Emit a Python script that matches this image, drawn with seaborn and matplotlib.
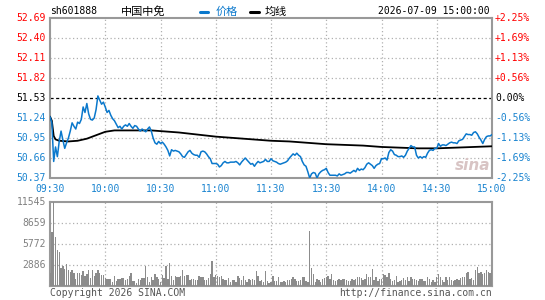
import matplotlib
matplotlib.use("Agg")
import matplotlib.pyplot as plt
import seaborn as sns
import numpy as np
import pandas as pd

# ---------------- data ----------------
price = [
    51.26, 51.17, 50.61, 50.82, 50.68, 50.90, 51.05, 50.92, 50.80, 50.88,
    50.95, 51.05, 51.17, 51.12, 51.08, 51.18, 51.16, 51.22, 51.40, 51.32,
    51.45, 51.30, 51.22, 51.21, 51.24, 51.36, 51.56, 51.50, 51.44, 51.47,
    51.40, 51.32, 51.35, 51.28, 51.23, 51.20, 51.15, 51.10, 51.12, 51.08,
    51.12, 51.14, 51.12, 51.16, 51.12, 51.09, 51.13, 51.12, 51.08, 51.05,
    51.08, 51.06, 51.04, 51.08, 51.11, 51.05, 50.95, 50.88, 50.86, 50.90,
    50.87, 50.89, 50.86, 50.82, 50.77, 50.69, 50.78, 50.76, 50.77, 50.76,
    50.75, 50.72, 50.68, 50.67, 50.71, 50.75, 50.77, 50.73, 50.71, 50.70,
    50.70, 50.67, 50.75, 50.76, 50.75, 50.72, 50.68, 50.65, 50.58, 50.58,
    50.58, 50.57, 50.53, 50.55, 50.59, 50.61, 50.59, 50.59, 50.60, 50.60,
    50.60, 50.61, 50.59, 50.56, 50.60, 50.63, 50.66, 50.63, 50.60, 50.57,
    50.58, 50.54, 50.58, 50.61, 50.59, 50.60, 50.61, 50.64, 50.61, 50.61,
    50.65, 50.62, 50.61, 50.60, 50.58, 50.57, 50.58, 50.59, 50.60, 50.62,
    50.66, 50.69, 50.72, 50.70, 50.73, 50.70, 50.68, 50.61, 50.56, 50.54,
    50.46, 50.37, 50.43, 50.45, 50.44, 50.37, 50.43, 50.46, 50.48, 50.49,
    50.51, 50.45, 50.41, 50.41, 50.41, 50.41, 50.40, 50.43, 50.41, 50.42,
    50.43, 50.45, 50.45, 50.44, 50.46, 50.48, 50.46, 50.51, 50.48, 50.50,
    50.49, 50.52, 50.57, 50.59, 50.57, 50.55, 50.51, 50.55, 50.57, 50.58,
    50.65, 50.65, 50.66, 50.63, 50.74, 50.78, 50.76, 50.71, 50.70, 50.68,
    50.68, 50.69, 50.67, 50.70, 50.76, 50.80, 50.84, 50.82, 50.82, 50.70,
    50.66, 50.68, 50.66, 50.68, 50.67, 50.73, 50.77, 50.78, 50.77, 50.80,
    50.80, 50.87, 50.83, 50.85, 50.85, 50.84, 50.86, 50.88, 50.89, 50.88,
    50.88, 50.87, 50.91, 50.92, 50.93, 50.97, 51.01, 51.00, 51.00, 50.99,
    51.03, 51.04, 51.01, 50.96, 50.92, 50.87, 50.93, 50.97, 50.98, 50.98,
    51.00,
]

avg_minutes = [0, 1, 2, 3, 5, 10, 15, 20, 25, 30, 35, 40, 50, 55, 60, 70, 80, 90,
               100, 110, 120, 130, 140, 150, 160, 170, 180, 190, 200, 210, 220,
               230, 240]
avg_price = [51.26, 51.20, 50.98, 50.93, 50.91, 50.90, 50.91, 50.94, 50.99, 51.04,
             51.06, 51.06, 51.06, 51.06, 51.05, 51.03, 51.00, 50.97, 50.95, 50.93,
             50.91, 50.90, 50.88, 50.86, 50.85, 50.84, 50.82, 50.81, 50.80, 50.80,
             50.81, 50.82, 50.83]

volume = [
    1786, 7420, 11545, 6733, 4900, 4672, 2382, 2702, 2290, 2977,
    2153, 1832, 2153, 1695, 916, 1786, 1786, 1466, 2015, 1328,
    1603, 2153, 1008, 2153, 1328, 1786, 2153, 1786, 1466, 1466,
    1008, 916, 870, 870, 550, 1328, 687, 870, 870, 1008,
    1008, 779, 916, 1328, 1695, 641, 641, 412, 916, 779,
    1008, 1099, 2702, 1145, 550, 1145, 779, 1603, 1237, 916,
    550, 1466, 1099, 2702, 870, 3160, 1328, 779, 1328, 1145,
    1237, 1328, 2153, 1328, 1466, 1466, 779, 916, 870, 779,
    779, 1328, 1145, 1145, 779, 779, 1099, 1603, 3389, 1237,
    1466, 1328, 1237, 1328, 916, 779, 779, 1008, 550, 779,
    779, 550, 1328, 1008, 779, 1328, 779, 550, 870, 779,
    916, 779, 2061, 1328, 641, 779, 550, 2061, 641, 321,
    550, 1328, 641, 641, 1145, 550, 550, 641, 550, 779,
    779, 916, 1145, 916, 641, 641, 779, 1145, 1145, 641,
    550, 7511, 2382, 1603, 550, 870, 779, 550, 870, 1008,
    1237, 1328, 870, 1603, 779, 641, 779, 916, 779, 870,
    916, 779, 641, 641, 916, 779, 916, 1237, 1145, 1099,
    779, 916, 1603, 1237, 1145, 2290, 779, 1237, 641, 870,
    870, 1603, 1466, 1145, 1695, 916, 641, 779, 1328, 550,
    641, 779, 1008, 779, 1145, 641, 1145, 916, 916, 779,
    641, 916, 916, 641, 641, 1145, 916, 550, 779, 550,
    1145, 1603, 1145, 779, 550, 1237, 779, 1145, 779, 641,
    779, 916, 779, 1099, 1145, 1145, 1786, 1924, 916, 1008,
    779, 2153, 2519, 1786, 1924, 1603, 1786, 2153, 1924, 1786,
    2153,
]

price_ticks = [52.69, 52.40, 52.11, 51.82, 51.53, 51.24, 50.95, 50.66, 50.37]
pct_labels = ["+2.25%", "+1.69%", "+1.13%", "+0.56%", "0.00%",
              "-0.56%", "-1.13%", "-1.69%", "-2.25%"]
time_labels = ["09:30", "10:00", "10:30", "11:00", "11:30",
               "13:30", "14:00", "14:30", "15:00"]
vol_ticks = [11545, 8659, 5772, 2886]
pre_close = 51.53

code = "sh601888"
name = "中国中免"
stamp = "2026-07-09 15:00:00"

# ---------------- style ----------------
sns.set_theme(style="white")
plt.rcParams['font.family'] = ['DejaVu Sans Mono', 'Noto Sans CJK SC']

W, H = 545, 300
fig = plt.figure(figsize=(W / 100, H / 100), dpi=100)
fig.patch.set_facecolor("white")

L, R = 50, 492
PT, PB = 18, 178
VT, VB = 201.7, 285.7

def fx(x):
    return x / W

def fy(y):
    return 1 - y / H

ax = fig.add_axes([fx(L), fy(PB), fx(R) - fx(L), (PB - PT) / H])
axv = fig.add_axes([fx(L), fy(VB), fx(R) - fx(L), (VB - VT) / H])

RED = "#ff0000"
BLUE = "#1a84d0"
LINE_BLUE = "#0a78cc"
GRAY = "#999999"
GRID = "#b0b0b0"
FS = 7

minutes = np.arange(len(price))
df = pd.DataFrame({"minute": minutes, "price": price})
dfa = pd.DataFrame({"minute": avg_minutes, "avg": avg_price})
dfv = pd.DataFrame({"minute": minutes, "volume": volume})

for a in (ax, axv):
    a.set_xlim(0, 240)
    a.set_facecolor("white")
    for s in a.spines.values():
        s.set_color(GRAY)
        s.set_linewidth(1.5)
    a.set_xticks([])
    a.set_yticks([])
    a.set_xlabel("")
    a.set_ylabel("")

ax.set_ylim(price_ticks[-1], price_ticks[0])
axv.set_ylim(0, vol_ticks[0])

# grids
for k in range(1, 8):
    for a in (ax, axv):
        a.axvline(k * 30, color=GRID, lw=0.9, ls=(0, (1, 2)), zorder=1)
for t in price_ticks[1:-1]:
    if t == pre_close:
        ax.axhline(t, color="black", lw=0.9, ls=(0, (2.5, 2)), zorder=1)
    else:
        ax.axhline(t, color=GRID, lw=0.9, ls=(0, (1, 2)), zorder=1)
for t in vol_ticks[1:]:
    axv.axhline(t, color=GRID, lw=0.9, ls=(0, (1, 2)), zorder=1)

sns.lineplot(data=dfa, x="minute", y="avg", ax=ax, color="black", lw=1.3, zorder=3)
sns.lineplot(data=df, x="minute", y="price", ax=ax, color=LINE_BLUE, lw=1.1, zorder=4)
ax.set_xlabel("")
ax.set_ylabel("")
ax.set_xticks([])
ax.set_yticks([])

axv.bar(dfv["minute"], dfv["volume"], width=0.75, color="#8c8c8c", linewidth=0, zorder=3)

# watermark
ax.text(0.955, 0.08, "sina", transform=ax.transAxes, fontsize=11, fontweight="bold",
        style="italic", color="#d8c4c4", ha="center", va="center",
        family="DejaVu Sans", zorder=2)

# price tick labels
for i, t in enumerate(price_ticks):
    if t > pre_close:
        c = RED
    elif t == pre_close:
        c = "black"
    else:
        c = BLUE
    y = PT + i * (PB - PT) / 8
    fig.text(fx(46), fy(y), f"{t:.2f}", color=c, fontsize=FS, ha="right", va="center")
    fig.text(fx(495), fy(y), pct_labels[i], color=c, fontsize=FS, ha="left", va="center")

# time labels
for i, lab in enumerate(time_labels):
    x = L + i * (R - L) / 8
    fig.text(fx(x), fy(188.5), lab, color=BLUE, fontsize=FS, ha="center", va="center")

# volume labels
for t in vol_ticks:
    y = VB - t / vol_ticks[0] * (VB - VT)
    fig.text(fx(46), fy(y), str(t), color="#808080", fontsize=FS, ha="right", va="center")

# header
fig.text(fx(50), fy(11.5), code, color="black", fontsize=FS, ha="left", va="center")
fig.text(fx(121), fy(11.5), name, color="black", fontsize=FS + 1, ha="left", va="center",
         family=['Noto Sans CJK SC', 'DejaVu Sans'])
fig.add_artist(plt.Line2D([fx(200), fx(208)], [fy(11.5), fy(11.5)], color=LINE_BLUE, lw=2.2))
fig.text(fx(216), fy(11.5), "价格", color=LINE_BLUE, fontsize=FS + 1, ha="left", va="center",
         family=['Noto Sans CJK SC', 'DejaVu Sans'])
fig.add_artist(plt.Line2D([fx(250), fx(259)], [fy(11.5), fy(11.5)], color="black", lw=2.2))
fig.text(fx(265), fy(11.5), "均线", color="black", fontsize=FS + 1, ha="left", va="center",
         family=['Noto Sans CJK SC', 'DejaVu Sans'])
fig.text(fx(490), fy(11.5), stamp, color="black", fontsize=FS, ha="right", va="center")

# footer
fig.text(fx(50), fy(292.5), "Copyright 2026 SINA.COM", color="#555555", fontsize=FS,
         ha="left", va="center")
fig.text(fx(492), fy(292.5), "http://finance.sina.com.cn", color="#555555", fontsize=FS,
         ha="right", va="center")

fig.savefig("out.png", dpi=100, facecolor="white")
